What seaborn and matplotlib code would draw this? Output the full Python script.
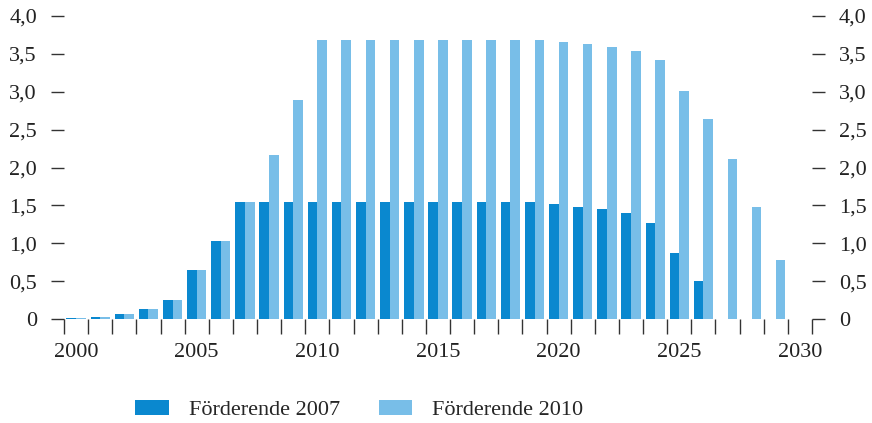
import numpy as np
import pandas as pd
import matplotlib
matplotlib.use("Agg")
import matplotlib.pyplot as plt
import seaborn as sns
from matplotlib.patches import Patch

# production profile (Förderung) by year
years = list(range(2000, 2031))
ende_2007 = [0.01, 0.03, 0.07, 0.13, 0.25, 0.65, 1.03, 1.55, 1.55, 1.55,
             1.55, 1.55, 1.55, 1.55, 1.55, 1.55, 1.55, 1.55, 1.55, 1.55,
             1.52, 1.48, 1.45, 1.40, 1.27, 0.87, 0.50, 0, 0, 0, 0]
ende_2010 = [0.01, 0.03, 0.07, 0.13, 0.25, 0.65, 1.03, 1.55, 2.17, 2.89,
             3.68, 3.68, 3.68, 3.68, 3.68, 3.68, 3.68, 3.68, 3.68, 3.68,
             3.66, 3.63, 3.59, 3.54, 3.42, 3.01, 2.64, 2.11, 1.48, 0.78, 0]
series_names = ["Förderende 2007", "Förderende 2010"]
colors = ["#0A88CF", "#78BEE8"]
yticks = [0, 0.5, 1.0, 1.5, 2.0, 2.5, 3.0, 3.5, 4.0]
ytick_labels = ["0", "0,5", "1,0", "1,5", "2,0", "2,5", "3,0", "3,5", "4,0"]
xlabel_years = [2000, 2005, 2010, 2015, 2020, 2025, 2030]

df = pd.DataFrame({
    "Jahr": years * 2,
    "Wert": ende_2007 + ende_2010,
    "Serie": [series_names[0]] * len(years) + [series_names[1]] * len(years),
})

sns.set_style("white")
plt.rcParams["font.family"] = ["Liberation Serif", "DejaVu Serif"]
fs = 16

fig = plt.figure(figsize=(8.72, 4.23), dpi=100)
ax = fig.add_axes([64 / 872, 1 - 319 / 423, (812 - 64) / 872, (319 - 16) / 423])

sns.barplot(data=df, x="Jahr", y="Wert", hue="Serie", palette=colors,
            width=0.8, saturation=1, linewidth=0, ax=ax, legend=False)

ax.set_xlim(-0.5, len(years) - 0.5)
ax.set_ylim(0, 4)
for s in ax.spines.values():
    s.set_visible(False)

# year boundaries as minor ticks, labels on major
ax.set_xticks([years.index(y) for y in xlabel_years])
ax.set_xticklabels([str(y) for y in xlabel_years])
ax.set_xticks(np.arange(-0.5, len(years)), minor=True)
ax.tick_params(axis="x", which="major", length=0, pad=17.5, labelsize=fs,
               labelcolor="#222222")
ax.tick_params(axis="x", which="minor", direction="out", length=11,
               width=1.0, color="#333333", bottom=True)

ax.set_yticks(yticks)
ax.set_yticklabels(ytick_labels)
ax.tick_params(axis="y", direction="out", length=9.5, width=1.0,
               color="#333333", left=True, right=True, labelleft=True,
               labelright=True, labelsize=fs, labelcolor="#222222", pad=10)
ax.set_xlabel("")
ax.set_ylabel("")

handles = [Patch(facecolor=c, edgecolor="none") for c in colors]
fig.legend(handles, series_names, loc="center", bbox_to_anchor=(0.412, 0.031),
           ncol=2, frameon=False, fontsize=fs, handlelength=1.5,
           handleheight=0.72, handletextpad=0.9, columnspacing=1.75,
           borderpad=0, borderaxespad=0)

fig.savefig("out.png", dpi=100)
